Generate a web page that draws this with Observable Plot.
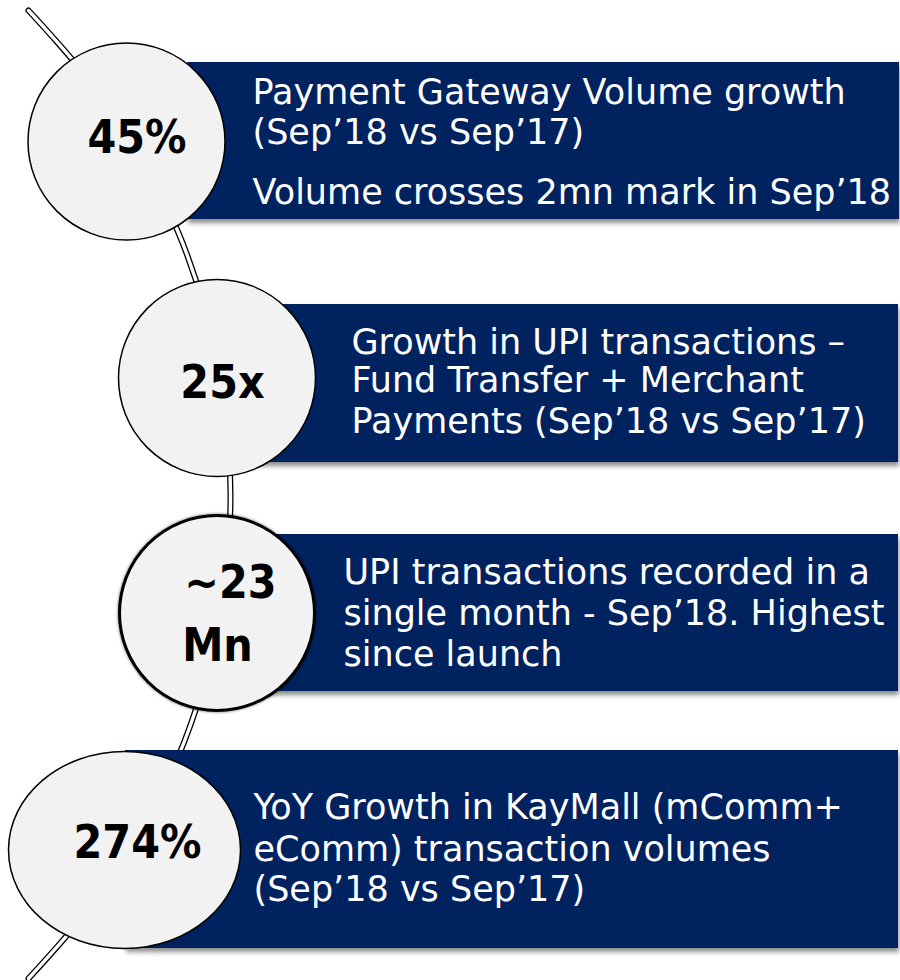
<!DOCTYPE html>
<html><head><meta charset="utf-8">
<script src="https://cdn.jsdelivr.net/npm/d3@7"></script>
<script src="https://cdn.jsdelivr.net/npm/@observablehq/plot@0.6"></script>
<style>html,body{margin:0;padding:0;background:#fff;}</style>
</head><body><div id="chart"></div>
<script>
// ---- content ----
const metrics = ["45%", "25x", "~23\nMn", "274%"];
const descriptions = [
  ["Payment Gateway Volume growth", "(Sep’18 vs Sep’17)", "Volume crosses 2mn mark in Sep’18"],
  ["Growth in UPI transactions –", "Fund Transfer + Merchant", "Payments (Sep’18 vs Sep’17)"],
  ["UPI transactions recorded in a", "single month - Sep’18. Highest", "since launch"],
  ["YoY Growth in KayMall (mComm+", "eComm) transaction volumes", "(Sep’18 vs Sep’17)"]
];

// ---- layout (pixel space) ----
const nodeLayout = [
  {cx: 126, cy: 141, aspect: 1, sw: 1.5},
  {cx: 216.5, cy: 377.5, aspect: 1, sw: 1.5},
  {cx: 216.5, cy: 612.5, aspect: 1, sw: 3},
  {cx: 124, cy: 849.5, aspect: 116 / 98.5, sw: 1.5}
];
const boxLayout = [
  {x1: 187, y1: 62, x2: 899, y2: 219, tx: 252, base: [103, 143, 203]},
  {x1: 240, y1: 304, x2: 898, y2: 462, tx: 351, base: [353, 391, 432]},
  {x1: 240, y1: 534, x2: 898, y2: 691, tx: 343, base: [583, 624, 665]},
  {x1: 125, y1: 750, x2: 898, y2: 948, tx: 253, base: [818, 860, 900]}
];
const metricLayout = [
  [{x: 136.5, y: 138}],
  [{x: 222, y: 383}],
  [{x: 230, y: 583}, {x: 217, y: 646}],
  [{x: 137, y: 843}]
];
const connectorPath = [[28,10],[104,100],[177,230],[220,377],[230,494],[220,612],[177,758],[104,888],[28,978]];

// ---- build mark tables ----
const descLines = descriptions.flatMap((lines, i) =>
  lines.map((t, j) => ({text: t, x: boxLayout[i].tx, y: boxLayout[i].base[j]})));
const metricLines = metrics.flatMap((m, i) =>
  m.split("\n").map((t, j) => ({text: t, x: metricLayout[i][j].x, y: metricLayout[i][j].y})));
const R = 98.5;
const circles = nodeLayout.filter((d, i) => d.aspect === 1 && i !== 2);
const ringNode = [nodeLayout[2]];
const ellipseNodes = nodeLayout.filter(d => d.aspect !== 1);

function ellipseSymbol(aspect) {
  return {
    draw(ctx, size) {
      const r = Math.sqrt(size / Math.PI), rx = r * aspect, ry = r, k = 0.5523;
      ctx.moveTo(rx, 0);
      ctx.bezierCurveTo(rx, ry * k, rx * k, ry, 0, ry);
      ctx.bezierCurveTo(-rx * k, ry, -rx, ry * k, -rx, 0);
      ctx.bezierCurveTo(-rx, -ry * k, -rx * k, -ry, 0, -ry);
      ctx.bezierCurveTo(rx * k, -ry, rx, -ry * k, rx, 0);
      ctx.closePath();
    }
  };
}

const NAVY = "#00205F", DISC = "#F2F2F2";
const BOLDFONT = "'DejaVu Sans Condensed', 'DejaVu Sans'";

const chart = Plot.plot({
  width: 900, height: 980, margin: 0,
  x: {domain: [0, 900], range: [0, 900], axis: null},
  y: {domain: [0, 980], range: [0, 980], axis: null},
  style: {background: "#fff", fontFamily: "DejaVu Sans"},
  marks: [
    Plot.line(connectorPath, {x: d => d[0], y: d => d[1], curve: "catmull-rom", stroke: "#000", strokeWidth: 6}),
    Plot.line(connectorPath, {x: d => d[0], y: d => d[1], curve: "catmull-rom", stroke: "#fff", strokeWidth: 3.4}),
    Plot.rect(boxLayout, {x1: "x1", x2: "x2", y1: "y1", y2: "y2", fill: NAVY}),
    Plot.dot(circles, {x: "cx", y: "cy", r: R, fill: DISC, stroke: "#000", strokeWidth: 1.5}),
    Plot.dot(ringNode, {x: "cx", y: "cy", r: 97.5, fill: DISC, stroke: "#000", strokeWidth: 3}),
    Plot.dot(ellipseNodes, {x: "cx", y: "cy", r: R, symbol: ellipseSymbol(116 / 98.5), fill: DISC, stroke: "#000", strokeWidth: 1.5}),
    Plot.text(descLines, {x: "x", y: "y", text: "text", textAnchor: "start", lineAnchor: "bottom",
      fill: "#fff", fontSize: 35, fontFamily: "DejaVu Sans"}),
    Plot.text(metricLines, {x: "x", y: "y", text: "text", textAnchor: "middle", lineAnchor: "middle",
      fill: "#000", fontSize: 46, fontWeight: "bold", fontFamily: BOLDFONT})
  ]
});

const svg = d3.select(chart);
svg.insert("defs", ":first-child").html(`
  <filter id="boxShadow" x="-5%" y="-10%" width="112%" height="130%">
    <feDropShadow dx="1" dy="4" stdDeviation="2.5" flood-color="#000" flood-opacity="0.45"/>
  </filter>
  <filter id="ringGlow" x="-10%" y="-10%" width="120%" height="120%">
    <feDropShadow dx="0" dy="0" stdDeviation="1.6" flood-color="#000" flood-opacity="0.6"/>
  </filter>`);
const rectG = chart.querySelector('g[aria-label="rect"]');
if (rectG) rectG.setAttribute("filter", "url(#boxShadow)");
const dotGs = chart.querySelectorAll('g[aria-label="dot"]');
if (dotGs[1]) dotGs[1].setAttribute("filter", "url(#ringGlow)");
document.getElementById("chart").appendChild(chart);
</script>
</body></html>
